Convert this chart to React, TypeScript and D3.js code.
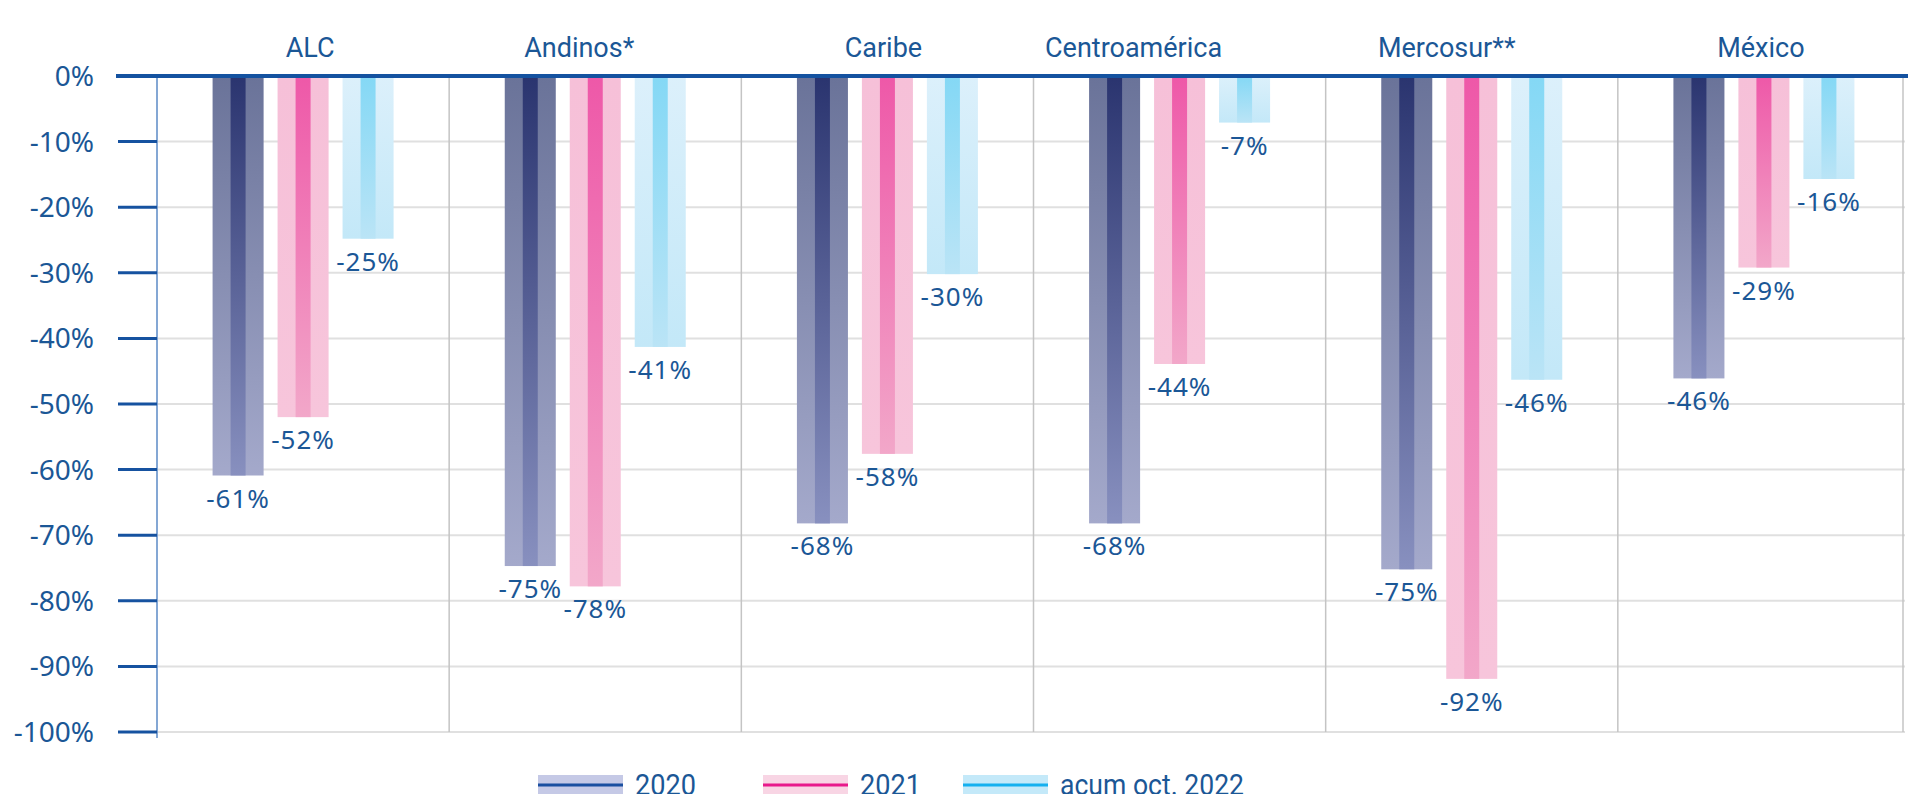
import React from "react"
import * as d3 from "d3"

// data
const categories = ["ALC", "Andinos*", "Caribe", "Centroamérica", "Mercosur**", "México"]
const seriesNames = ["2020", "2021", "acum oct. 2022"]
const values2020 = [-60.9, -74.7, -68.2, -68.2, -75.2, -46.1]
const values2021 = [-52.0, -77.8, -57.6, -43.9, -91.9, -29.2]
const values2022 = [-24.8, -41.3, -30.2, -7.1, -46.3, -15.7]
const yTicks = [0, -10, -20, -30, -40, -50, -60, -70, -80, -90, -100]

// title placement tweaks (the source labels are not exactly centred)
const titleNudge = [7, -16, -4, -46, -25, -3]

const width = 1908
const height = 794
const textColor = "#1b5796"
const titleFont = "Roboto, 'Noto Sans', sans-serif"
const numFont = "'Noto Sans', 'Open Sans', sans-serif"

const styles = [
  { outer: ["#6a7399", "#a4a9cb"], inner: ["#2a346f", "#8890bf"], band: "#c5c9e6", line: "#1a4fa0" },
  { outer: ["#f6c0d8", "#f7c5db"], inner: ["#ee58a8", "#f2a7c9"], band: "#f8d5e4", line: "#e8198b" },
  { outer: ["#dcf0fb", "#c3e8f8"], inner: ["#84d8f5", "#bae4f6"], band: "#c4e9f9", line: "#14b0ef" }
]

export default function App() {
  const left = 157
  const right = 1910
  const top = 76
  const bottom = 732

  const x0 = d3.scaleBand().domain(categories).range([left, right])
  const y = d3.scaleLinear().domain([0, -100]).range([top, bottom])
  const groupW = 181
  const x1 = d3.scaleBand().domain(seriesNames).range([0, groupW]).paddingInner(0.215)
  const bw = x1.bandwidth()
  const stripe = 15

  const series = [values2020, values2021, values2022]
  const fmt = (v) => `${Math.round(v)}%`

  // legend layout
  const legendX = [538, 763, 963]
  const legendTextW = [61, 61, 184]

  return (
    <svg width={width} height={height} style={{ position: "absolute", left: 0, top: 0 }}>
      <defs>
        {styles.map((s, i) => (
          <React.Fragment key={i}>
            <linearGradient id={`outer${i}`} x1="0" y1="0" x2="0" y2="1">
              <stop offset="0" stopColor={s.outer[0]} />
              <stop offset="1" stopColor={s.outer[1]} />
            </linearGradient>
            <linearGradient id={`inner${i}`} x1="0" y1="0" x2="0" y2="1">
              <stop offset="0" stopColor={s.inner[0]} />
              <stop offset="1" stopColor={s.inner[1]} />
            </linearGradient>
          </React.Fragment>
        ))}
      </defs>

      {/* horizontal gridlines */}
      {yTicks.filter((t) => t !== 0).map((t) => (
        <line key={t} x1={left} x2={1905} y1={y(t)} y2={y(t)} stroke="#e0e0e0" strokeWidth={2} />
      ))}

      {/* category separators */}
      {categories.map((c) => {
        const sx = Math.min(x0(c) + x0.bandwidth(), 1903)
        return <line key={c} x1={sx} x2={sx} y1={top} y2={bottom} stroke="#c4c4c4" strokeWidth={1.5} />
      })}

      {/* y axis */}
      <line x1={left} x2={left} y1={top} y2={bottom + 6} stroke="#5b8ac6" strokeWidth={1.5} />
      {yTicks.map((t) => (
        <g key={t}>
          <line x1={118} x2={left} y1={y(t)} y2={y(t)} stroke="#1652a0" strokeWidth={3} />
          <text x={94} y={y(t)} dy="0.36em" textAnchor="end" fontSize={28} fontFamily={numFont} fill={textColor}>{t}%</text>
        </g>
      ))}

      {/* bars */}
      {categories.map((c, ci) => {
        const gx = x0(c) + x0.bandwidth() / 2 - groupW / 2
        return (
          <g key={c}>
            {seriesNames.map((s, si) => {
              const v = series[si][ci]
              const bx = gx + x1(s)
              const by = y(0)
              const bh = y(v) - y(0)
              return (
                <g key={s}>
                  <rect x={bx} y={by} width={bw} height={bh} fill={`url(#outer${si})`} />
                  <rect x={bx + (bw - stripe) / 2} y={by} width={stripe} height={bh} fill={`url(#inner${si})`} />
                  <text x={bx + bw / 2} y={y(v) + 32} textAnchor="middle" fontSize={26} letterSpacing={1}
                    fontFamily={numFont} fill={textColor}>
                    {fmt(v)}
                  </text>
                </g>
              )
            })}
            <text x={x0(c) + x0.bandwidth() / 2 + titleNudge[ci]} y={57} textAnchor="middle" fontSize={27}
              fontFamily={titleFont} fill={textColor}>
              {c}
            </text>
          </g>
        )
      })}

      {/* zero line */}
      <line x1={116} x2={width} y1={y(0)} y2={y(0)} stroke="#1452a0" strokeWidth={4} />

      {/* legend */}
      {seriesNames.map((s, i) => {
        const lx = legendX[i]
        return (
          <g key={s}>
            <rect x={lx} y={775} width={85} height={22} fill={styles[i].band} />
            <line x1={lx} x2={lx + 85} y1={785} y2={785} stroke={styles[i].line} strokeWidth={3} />
            <text x={lx + 97} y={795} fontSize={29} fontFamily={titleFont} fill={textColor}
              textLength={legendTextW[i]} lengthAdjust="spacingAndGlyphs">
              {s}
            </text>
          </g>
        )
      })}
    </svg>
  )
}
